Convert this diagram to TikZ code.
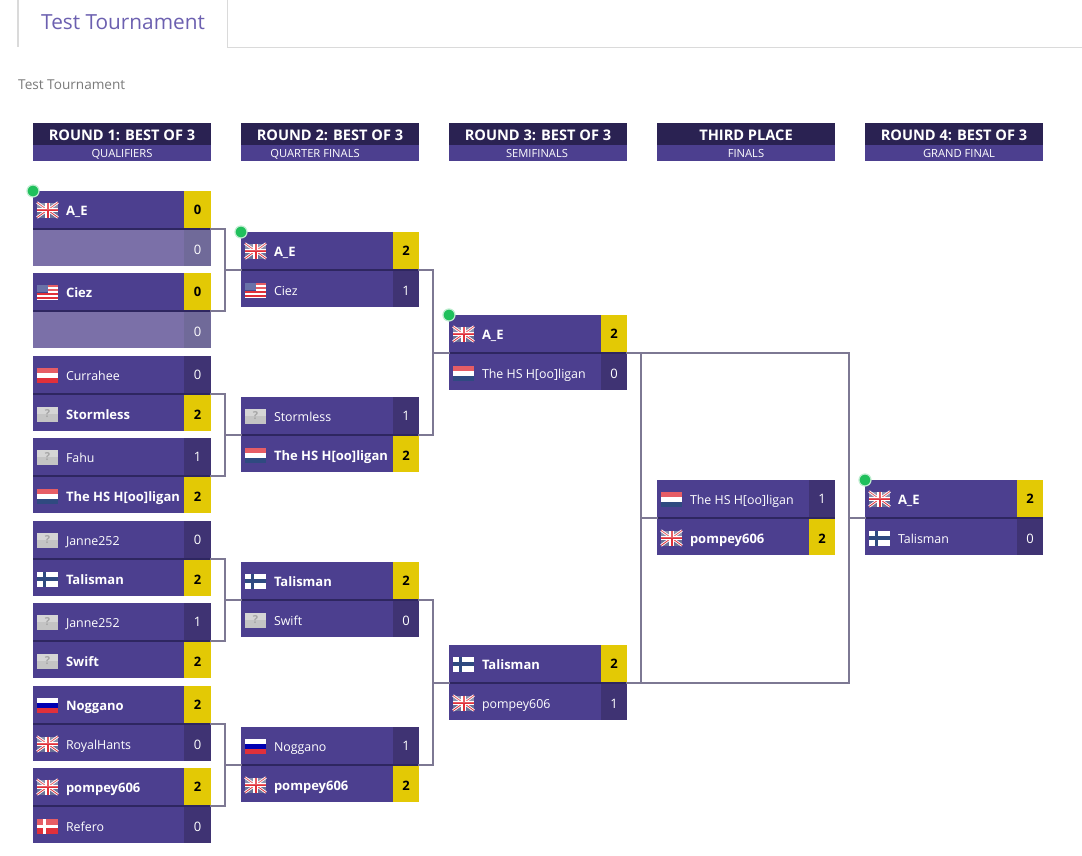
\documentclass[tikz,border=0pt]{standalone}
\usepackage{fontspec}
\setmainfont{Open Sans}
\definecolor{rowc}{HTML}{4C3F8F}
\definecolor{losec}{HTML}{3F3373}
\definecolor{yel}{HTML}{E3C905}
\definecolor{fadec}{HTML}{7B70A8}
\definecolor{fadesc}{HTML}{706A99}
\definecolor{headc}{HTML}{2A2252}
\definecolor{sepc}{HTML}{2E2660}
\definecolor{connc}{HTML}{7D7893}
\definecolor{tabc}{HTML}{DADADA}
\definecolor{titlec}{HTML}{6C60B0}
\definecolor{subc}{HTML}{7A7A7A}
\definecolor{dotc}{HTML}{20C05C}
\definecolor{ukb}{HTML}{6A7096}
\definecolor{flagr}{HTML}{E0303A}
\definecolor{nlb}{HTML}{2F4A80}
\definecolor{usb}{HTML}{3F4A90}
\definecolor{grayf}{HTML}{C4C4C4}
\newcommand\fs[1]{\fontsize{#1}{#1}\selectfont}
\tikzset{
  x=1pt,y=-1pt,
  rowbase/.style={rectangle,inner sep=0pt,outer sep=0pt,minimum width=178pt,anchor=north west},
  rowwin/.style={rowbase,fill=rowc},
  rowlose/.style={rowbase,fill=rowc},
  rowempty/.style={rowbase,fill=fadec},
  scorebase/.style={rectangle,inner sep=0pt,outer sep=0pt,anchor=north east,font=\fs{13},text depth=0pt},
  scorewin/.style={scorebase,fill=yel,text=black,font=\fs{13}\bfseries},
  scorelose/.style={scorebase,fill=losec,text=white},
  scoreempty/.style={scorebase,fill=fadesc,text=white},
  namebase/.style={inner sep=0pt,outer sep=0pt,anchor=west,text=white,text height=9pt,text depth=3pt},
  namewin/.style={namebase,font=\fs{13}\bfseries},
  namelose/.style={namebase,font=\fs{12.4}},
  nameempty/.style={namebase},
  conn/.style={draw=connc,line width=2pt,line cap=rect},
  sep/.style={draw=sepc,line width=1.4pt},
  headbar/.style={rectangle,inner sep=0pt,outer sep=0pt,minimum width=178pt,minimum height=22pt,anchor=north west,fill=headc},
  headlabel/.style={inner sep=0pt,text=white,font=\fs{14.6}\bfseries},
  subbar/.style={rectangle,inner sep=0pt,outer sep=0pt,minimum width=178pt,minimum height=16pt,anchor=north west,fill=rowc},
  sublabel/.style={inner sep=0pt,text=white,font=\fs{11.2}},
  windot/.style={circle,inner sep=0pt,minimum size=12pt,fill=dotc,draw=white!70!dotc,line width=1.2pt},
  tabline/.style={draw=tabc,line width=1.4pt},
}
% flags, centred on the origin, 21 x 15
\newcommand\flagshape{(-10.5,-7.5) rectangle (10.5,7.5)}
\newcommand\gloss{\fill[white,opacity=.22] (-10.5,-7.5) rectangle (10.5,0);}
\newcommand\flaguk{\fill[ukb] \flagshape;
  \draw[white,line width=2.6pt] (-10.5,-7.5)--(10.5,7.5) (-10.5,7.5)--(10.5,-7.5);
  \draw[flagr,line width=.8pt] (-10.5,-7.5)--(10.5,7.5) (-10.5,7.5)--(10.5,-7.5);
  \draw[white,line width=4.2pt] (-10.5,0)--(10.5,0) (0,-7.5)--(0,7.5);
  \draw[flagr,line width=2pt] (-10.5,0)--(10.5,0) (0,-7.5)--(0,7.5);\gloss}
\newcommand\flagus{\fill[white] \flagshape;
  \foreach \k in {-7.5,-3.5,0.5,4.5}{\fill[flagr] (-10.5,\k) rectangle (10.5,\k+2);}
  \fill[usb] (-10.5,-7.5) rectangle (0,0.5);\gloss}
\newcommand\flagat{\fill[flagr] \flagshape;\fill[white] (-10.5,-2.5) rectangle (10.5,2.5);\gloss}
\newcommand\flagnl{\fill[white] \flagshape;\fill[flagr] (-10.5,-7.5) rectangle (10.5,-2.5);\fill[nlb] (-10.5,2.5) rectangle (10.5,7.5);\gloss}
\newcommand\flagfi{\fill[white] \flagshape;\fill[nlb] (-10.5,-1.6) rectangle (10.5,1.6);\fill[nlb] (-5,-7.5) rectangle (-1.8,7.5);}
\newcommand\flagru{\fill[white] \flagshape;\fill[blue!70!black] (-10.5,-2.5) rectangle (10.5,2.5);\fill[flagr] (-10.5,2.5) rectangle (10.5,7.5);}
\newcommand\flagdk{\fill[flagr] \flagshape;\fill[white] (-10.5,-1.5) rectangle (10.5,1.5);\fill[white] (-4.5,-7.5) rectangle (-1.5,7.5);\gloss}
\newcommand\flagun{\fill[grayf] \flagshape;\fill[white,opacity=.3] (-10.5,-7.5) rectangle (10.5,0);
  \node[inner sep=0pt,text=gray!70,font=\fs{11}\bfseries] at (0,0) {?};}
\newcommand\flagnone{}
\def\scw{26}
\def\lowshift{0}
\def\scoreth{9}
% \team{id}{x}{y}{h}{flag}{name}{score}{state}
\newcommand\team[8]{%
  \node[row#8,minimum height=#4pt] (#1) at (#2,#3) {};
  \node[score#8,minimum height=#4pt,minimum width=\scw pt,text height=\scoreth pt] (#1s) at (#2+178,#3) {#7};
  \begin{scope}[shift={(#2+14.5,#3+#4/2+\lowshift*0.75)}]\csname flag#5\endcsname\end{scope}
  \node[name#8] (#1n) at (#2+33,#3+#4/2+2+\lowshift) {#6};
}
% \match{id}{x}{y}{h}{flag}{name}{score}{state}{flag}{name}{score}{state}
\newcommand\match[2]{\def\mymid{#1}\def\mx{#2}\matchcont}
\newcommand\matchcont[9]{%
  \def\lowshift{0}\def\scoreth{9}%
  \team{\mymid a}{\mx}{#1}{#2}{#3}{#4}{#5}{#6}%
  \def\yb{#1+#2}\def\argseven{#7}\def\argeight{#8}\def\argnine{#9}\matchend}
\newcommand\matchend[1]{%
  \def\lowshift{2}\def\scoreth{13}%
  \team{\mymid b}{\mx}{\yb}{37}{\argseven}{\argeight}{\argnine}{#1}%
  \draw[sep] (\mymid a.south west) -- (\mymid a.south east);}
\newcommand\bracket[3]{%
  \draw[conn] (#1a.south east) -- ++(14,0) coordinate (brk) |- (#2a.south east);
  \draw[conn] (brk |- #3a.south west) -- (#3a.south west);}
\newcommand\colhead[5]{%
  \node[headbar] (#1t) at (#2,123) {};
  \node[headlabel] (#1h) at (#2+89,135) {#3};
  \node[subbar] (#1b) at (#2,145) {};
  \node[sublabel] (#1l) at (#5,154) {#4};}
\begin{document}
\begin{tikzpicture}
\useasboundingbox (0,0) rectangle (1082,856);
\fill[white] (0,0) rectangle (1082,856);
% tab
\draw[tabline] (18,0) -- (18,47);
\draw[tabline] (227.5,0) -- (227.5,47.5) -- (1082,47.5);
\node[inner sep=0pt,anchor=west,text=titlec,font=\fs{20.8}] (tabt) at (41,22) {Test Tournament};
\node[inner sep=0pt,anchor=west,text=subc,font=\fs{13.6}] (subt) at (18,84.5) {Test Tournament};
% headers
\colhead{h1}{33}{ROUND 1: BEST OF 3}{QUALIFIERS}{122}
\colhead{h2}{241}{ROUND 2: BEST OF 3}{QUARTER FINALS}{315}
\colhead{h3}{449}{ROUND 3: BEST OF 3}{SEMIFINALS}{537}
\colhead{h4}{657}{THIRD PLACE}{FINALS}{746}
\colhead{h5}{865}{ROUND 4: BEST OF 3}{GRAND FINAL}{959}
% round 1
\def\scw{27}
\match{ma}{33}{191}{38}{uk}{A\_E}{0}{win}{none}{}{0}{empty}
\match{mb}{33}{273}{38}{us}{Ciez}{0}{win}{none}{}{0}{empty}
\match{mc}{33}{356}{38}{at}{Currahee}{0}{lose}{un}{Stormless}{2}{win}
\match{md}{33}{438}{38}{un}{Fahu}{1}{lose}{nl}{The HS H[oo]ligan}{2}{win}
\match{me}{33}{521}{38}{un}{Janne252}{0}{lose}{fi}{Talisman}{2}{win}
\match{mf}{33}{603}{38}{un}{Janne252}{1}{lose}{un}{Swift}{2}{win}
\match{mg}{33}{686}{38}{ru}{Noggano}{2}{win}{uk}{RoyalHants}{0}{lose}
\match{mh}{33}{768}{38}{uk}{pompey606}{2}{win}{dk}{Refero}{0}{lose}
\def\scw{26}
% round 2
\match{qa}{241}{232}{38}{uk}{A\_E}{2}{win}{us}{Ciez}{1}{lose}
\match{qb}{241}{397}{38}{un}{Stormless}{1}{lose}{nl}{The HS H[oo]ligan}{2}{win}
\match{qc}{241}{562}{38}{fi}{Talisman}{2}{win}{un}{Swift}{0}{lose}
\match{qd}{241}{727}{38}{ru}{Noggano}{1}{lose}{uk}{pompey606}{2}{win}
% round 3
\match{sa}{449}{315}{38}{uk}{A\_E}{2}{win}{nl}{The HS H[oo]ligan}{0}{lose}
\match{sb}{449}{645}{38}{fi}{Talisman}{2}{win}{uk}{pompey606}{1}{lose}
% third, final
\match{tp}{657}{480}{38}{nl}{The HS H[oo]ligan}{1}{lose}{uk}{pompey606}{2}{win}
\match{gf}{865}{480}{38}{uk}{A\_E}{2}{win}{fi}{Talisman}{0}{lose}
% connectors
\bracket{ma}{mb}{qa}
\bracket{mc}{md}{qb}
\bracket{me}{mf}{qc}
\bracket{mg}{mh}{qd}
\bracket{qa}{qb}{sa}
\bracket{qc}{qd}{sb}
\bracket{sa}{sb}{tp}
\draw[conn] (saa.south east) -- ++(222,0) coordinate (brk) |- (sba.south east);
\draw[conn] (brk |- gfa.south west) -- (gfa.south west);
% winner dots
\node[windot] (da) at (maa.north west) {};
\node[windot] (db) at (qaa.north west) {};
\node[windot] (dc) at (saa.north west) {};
\node[windot] (dd) at (gfa.north west) {};
\end{tikzpicture}
\end{document}
